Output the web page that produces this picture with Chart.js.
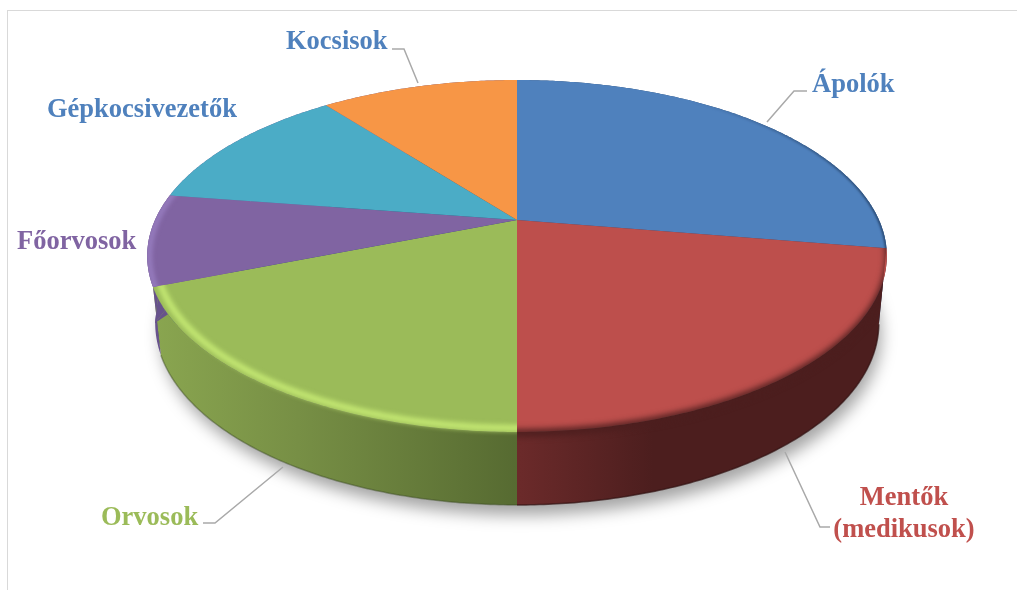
<!DOCTYPE html>
<html>
<head>
<meta charset="utf-8">
<title>Pie</title>
<script src="https://cdn.jsdelivr.net/npm/chart.js@4/dist/chart.umd.min.js"></script>
<style>
  html, body { margin: 0; padding: 0; background: #fff; }
  #wrap { position: relative; width: 1017px; height: 590px; overflow: hidden; }
  #frame { position: absolute; left: 7px; top: 10px; width: 1100px; height: 700px;
           border-left: 1.5px solid #d9d9d9; border-top: 1.5px solid #d9d9d9; }
  canvas { position: absolute; left: 0; top: 0; }
</style>
</head>
<body>
<div id="wrap">
  <div id="frame"></div>
  <canvas id="myChart" width="1017" height="590"></canvas>
</div>
<script>
// data (share of the circle, percent)
const categories = ['Ápolók', 'Mentők (medikusok)', 'Orvosok', 'Főorvosok', 'Gépkocsivezetők', 'Kocsisok'];
const shares = [27.6, 22.4, 19.0, 8.4, 12.1, 10.5];

const faceColors = ['#4f81bd', '#bd4f4c', '#9bbb59', '#8064a2', '#4bacc6', '#f79646'];
const labelColors = ['#4f81bd', '#c0504d', '#9bbb59', '#8064a2', '#4f81bd', '#4f81bd'];

// label layout, same order as categories
const labelLines = [['Ápolók'], ['Mentők', '(medikusok)'], ['Orvosok'], ['Főorvosok'], ['Gépkocsivezetők'], ['Kocsisok']];
const labelAnchors = [[812, 92, 'left'], [904, 505, 'center'], [101, 525, 'left'], [17, 249, 'left'], [47, 117, 'left'], [286, 49, 'left']];
const leaders = [
  [[807, 91], [794, 91], [767, 122]],
  [[830, 527], [820, 527], [785, 452]],
  [[203, 523], [215, 523], [283, 467]],
  [],
  [],
  [[392, 49], [404, 49], [418, 83]]
];

// perspective of the disc: circle angle -> point on the top ellipse
const apexX = 517, apexY = 220;
const persp = -0.2045, spanX = 362, spanY = 168.6;
const topCy = 256, topRx = 370, topRy = 176;
const botCy = 323, botRx = 362, botRy = 182;

function facePoint(a) {
  const w = 1 + persp * Math.sin(a);
  return [apexX + spanX * Math.cos(a) / w, apexY + spanY * Math.sin(a) / w];
}

// lower edge of the wall; the far half collapses to the widest points
function bottomPoint(a) {
  const p = facePoint(a);
  if (p[1] < topCy) return [apexX + (p[0] > apexX ? botRx : -botRx), botCy];
  return [apexX + botRx * (p[0] - apexX) / topRx, botCy + botRy * (p[1] - topCy) / topRy];
}

function angleSteps(start, end) {
  const out = [];
  const n = Math.max(2, Math.ceil((end - start) / 0.01));
  for (let i = 0; i <= n; i++) out.push(start + (end - start) * i / n);
  return out;
}

function facePath(ctx, start, end) {
  ctx.beginPath();
  ctx.moveTo(apexX, apexY);
  angleSteps(start, end).forEach(a => ctx.lineTo(...facePoint(a)));
  ctx.closePath();
}

function edgePath(ctx, start, end, inset) {
  // arc of the top edge, pulled towards the ellipse centre by inset pixels
  ctx.beginPath();
  angleSteps(start, end).forEach(a => {
    const p = facePoint(a);
    const f = (topRy - inset) / topRy;
    ctx.lineTo(apexX + (p[0] - apexX) * f, topCy + (p[1] - topCy) * f);
  });
}

function sidePath(ctx, start, end) {
  const steps = angleSteps(start, end);
  ctx.beginPath();
  steps.forEach(a => ctx.lineTo(...facePoint(a)));
  steps.reverse().forEach(a => ctx.lineTo(...bottomPoint(a)));
  ctx.closePath();
}

// slice plus its wall, as one outline
function slicePath(ctx, start, end) {
  ctx.beginPath();
  ctx.moveTo(apexX, apexY);
  ctx.lineTo(...facePoint(start));
  angleSteps(start, end).forEach(a => ctx.lineTo(...bottomPoint(a)));
  ctx.lineTo(...facePoint(end));
  ctx.closePath();
}

function sideFill(ctx, i) {
  if (i === 0) return '#2c4a70';
  if (i > 2) return '#67528c';
  const g = ctx.createLinearGradient(150, 0, 890, 0);
  const stops = i === 1
    ? [[0, '#6b2a2a'], [0.5, '#6b2a2a'], [0.68, '#4c1e1e'], [1, '#4c1e1e']]
    : [[0, '#8aa650'], [0.2, '#778f45'], [0.5, '#566a31'], [1, '#566a31']];
  stops.forEach(s => g.addColorStop(s[0], s[1]));
  return g;
}

const tiltedPie = {
  id: 'tiltedPie',
  beforeDatasetDraw(chart, args) {
    const ctx = chart.ctx;
    const arcs = chart.getDatasetMeta(args.index).data;

    // soft shadow under the disc
    ctx.save();
    ctx.shadowColor = 'rgba(0,0,0,0.36)';
    ctx.shadowBlur = 16;
    ctx.shadowOffsetX = 4;
    ctx.shadowOffsetY = 12;
    ctx.fillStyle = '#555';
    ctx.beginPath();
    ctx.ellipse(apexX, botCy, botRx - 2, botRy - 2, 0, 0, Math.PI * 2);
    ctx.fill();
    ctx.restore();

    arcs.forEach((arc, i) => {
      sidePath(ctx, arc.startAngle, arc.endAngle);
      ctx.fillStyle = sideFill(ctx, i);
      ctx.fill();
    });

    // darker lower edge of the side wall
    ctx.save();
    ctx.lineWidth = 1.5;
    arcs.forEach((arc, i) => {
      if (i < 1 || i > 2) return;
      ctx.strokeStyle = ['', 'rgba(50,18,18,0.7)', 'rgba(60,75,35,0.45)'][i];
      ctx.beginPath();
      angleSteps(arc.startAngle, arc.endAngle).forEach(a => {
        if (facePoint(a)[1] >= topCy) ctx.lineTo(...bottomPoint(a));
      });
      ctx.stroke();
    });
    ctx.restore();

    arcs.forEach((arc, i) => {
      facePath(ctx, arc.startAngle, arc.endAngle);
      ctx.fillStyle = arc.options.backgroundColor;
      ctx.fill();
    });

    // the dark rim of the blue slice only shows towards the right end
    const blueEdge = ctx.createLinearGradient(690, 0, 880, 0);
    blueEdge.addColorStop(0, 'rgba(39,70,110,0)');
    blueEdge.addColorStop(1, 'rgba(39,70,110,1)');

    // bevel of the top edge
    const bevels = [
      { i: 0, color: blueEdge, width: 3, blur: 1, inset: 0, wall: false },
      { i: 1, color: '#4c1e1e', width: 7, blur: 3, inset: -1, wall: true },
      { i: 2, color: '#c6ea74', width: 6, blur: 2.5, inset: 4, wall: true },
      { i: 3, color: '#957bbd', width: 6, blur: 2, inset: 1, wall: false }
    ];
    bevels.forEach(b => {
      const arc = arcs[b.i];
      ctx.save();
      if (b.wall) slicePath(ctx, arc.startAngle, arc.endAngle);
      else facePath(ctx, arc.startAngle, arc.endAngle);
      ctx.clip();
      ctx.filter = 'blur(' + b.blur + 'px)';
      ctx.strokeStyle = b.color;
      ctx.lineWidth = b.width;
      edgePath(ctx, arc.startAngle - 0.15, arc.endAngle + 0.15, b.inset);
      ctx.stroke();
      ctx.restore();
    });

    return false;
  },
  afterDraw(chart) {
    const ctx = chart.ctx;
    ctx.save();
    ctx.strokeStyle = '#a9a9a9';
    ctx.lineWidth = 1.5;
    leaders.forEach(points => {
      if (!points.length) return;
      ctx.beginPath();
      points.forEach(p => ctx.lineTo(p[0], p[1]));
      ctx.stroke();
    });

    ctx.font = 'bold 26.5px "Liberation Serif"';
    labelLines.forEach((lines, i) => {
      ctx.fillStyle = labelColors[i];
      ctx.textAlign = labelAnchors[i][2];
      ctx.textBaseline = 'alphabetic';
      lines.forEach((line, n) => ctx.fillText(line, labelAnchors[i][0], labelAnchors[i][1] + n * 32));
    });
    ctx.restore();
  }
};

const myChart = new Chart(document.getElementById('myChart'), {
  type: 'pie',
  data: {
    labels: categories,
    datasets: [{ data: shares, backgroundColor: faceColors, borderWidth: 0 }]
  },
  options: {
    responsive: false,
    animation: false,
    rotation: 0,
    plugins: { legend: { display: false }, tooltip: { enabled: false } }
  },
  plugins: [tiltedPie]
});
</script>
</body>
</html>
